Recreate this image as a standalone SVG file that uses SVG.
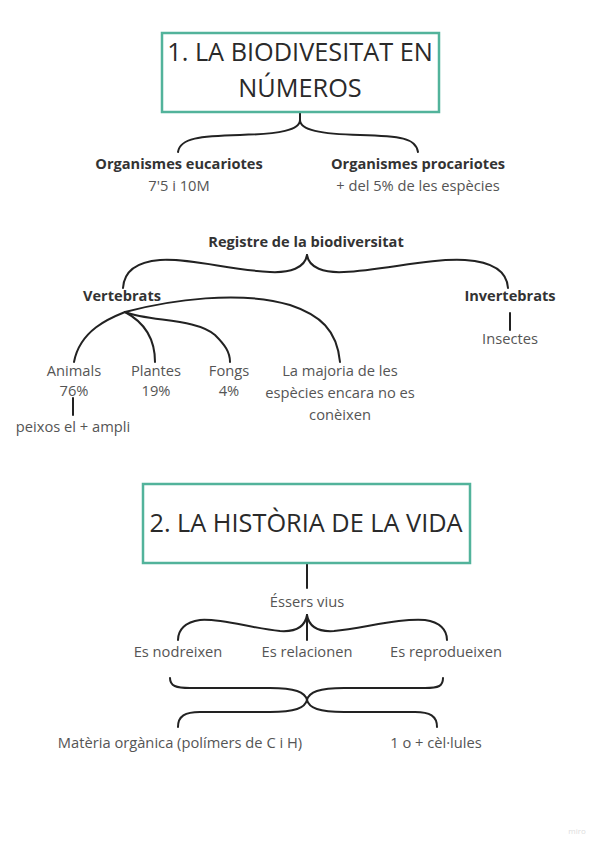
<svg xmlns="http://www.w3.org/2000/svg" width="600" height="848" viewBox="0 0 600 848">
<style>
.t{font-family:"Open Sans","Liberation Sans",sans-serif;fill:#555;font-size:14.7px;text-anchor:middle}
.b{font-family:"Open Sans","Liberation Sans",sans-serif;fill:#333;font-size:14.6px;font-weight:bold;text-anchor:middle}
.h{font-family:"Open Sans","Liberation Sans",sans-serif;fill:#2a2a2a;font-size:25.3px;text-anchor:middle}
.box{fill:#fff;stroke:#52b39b;stroke-width:2.5}
.c{fill:none;stroke:#222;stroke-width:2;stroke-linecap:round}
</style>
<rect width="600" height="848" fill="#fff"/>
<g id="connectors">
<path class="c" d="M300,112 L300,120 C300,130 280,134 240,135 C200,136 180,138 178,152"/>
<path class="c" d="M300,120 C300,130 320,134 360,135 C400,136 416,138 418,152"/>
<path class="c" d="M307,255 C305,268 290,273 270,272 C230,270 190,258 160,260 C135,262 124,272 123,288"/>
<path class="c" d="M307,255 C309,268 324,273 344,272 C384,270 430,258 465,260 C495,262 507,272 508,288"/>
<path class="c" d="M510,313 L510,330"/>
<path class="c" d="M125,312 C110,318 80,330 74,362"/>
<path class="c" d="M125,312 C140,320 155,335 155,362"/>
<path class="c" d="M125,312 C150,322 195,318 215,335 C225,345 230,352 230,362"/>
<path class="c" d="M125,312 C170,300 240,290 290,305 C320,315 337,330 340,362"/>
<path class="c" d="M73,398 L73,415"/>
<path class="c" d="M307,563 L307,588"/>
<path class="c" d="M307,615 L307,640"/>
<path class="c" d="M307,615 C305,627 295,632 280,631 C250,628 220,618 200,620 C185,622 178,630 178,640"/>
<path class="c" d="M307,615 C309,627 319,632 334,631 C364,628 400,618 425,620 C440,622 447,630 447,640"/>
<path class="c" d="M170,678 C170,686 176,688 190,688 L270,688 C295,688 305,692 307,700 C309,692 319,688 344,688 L425,688 C439,688 443,686 443,678"/>
<path class="c" d="M178,727 C178,716 185,712 200,712 L270,712 C295,712 305,708 307,700 C309,708 319,712 344,712 L415,712 C430,712 437,716 437,727"/>
</g>
<g id="title1">
<rect class="box" x="162" y="33" width="277" height="79"/>
<text class="h" x="300" y="61">1. LA BIODIVESITAT EN</text>
<text class="h" x="300" y="97">NÚMEROS</text>
</g>
<g id="eucariotes">
<text class="b" x="179" y="169">Organismes eucariotes</text>
<text class="t" x="179" y="191">7'5 i 10M</text>
</g>
<g id="procariotes">
<text class="b" x="418" y="169">Organismes procariotes</text>
<text class="t" x="418" y="191">+ del 5% de les espècies</text>
</g>
<g id="registre"><text class="b" x="306" y="247">Registre de la biodiversitat</text></g>
<g id="vertebrats"><text class="b" x="122" y="301">Vertebrats</text></g>
<g id="invertebrats"><text class="b" x="510" y="301">Invertebrats</text></g>
<g id="insectes"><text class="t" x="510" y="344">Insectes</text></g>
<g id="animals"><text class="t" x="74" y="376">Animals</text><text class="t" x="74" y="396">76%</text></g>
<g id="peixos"><text class="t" x="73" y="432">peixos el + ampli</text></g>
<g id="plantes"><text class="t" x="156" y="376">Plantes</text><text class="t" x="156" y="396">19%</text></g>
<g id="fongs"><text class="t" x="229" y="376">Fongs</text><text class="t" x="229" y="396">4%</text></g>
<g id="majoria"><text class="t" x="340" y="376">La majoria de les</text><text class="t" x="340" y="398">espècies encara no es</text><text class="t" x="340" y="420">conèixen</text></g>
<g id="title2">
<rect class="box" x="143" y="484" width="327" height="79"/>
<text class="h" x="306" y="532" font-size="25.8">2. LA HISTÒRIA DE LA VIDA</text>
</g>
<g id="essers"><text class="t" x="307" y="607">Éssers vius</text></g>
<g id="nodreixen"><text class="t" x="178" y="657">Es nodreixen</text></g>
<g id="relacionen"><text class="t" x="307" y="657">Es relacionen</text></g>
<g id="reprodueixen"><text class="t" x="446" y="657">Es reprodueixen</text></g>
<g id="materia"><text class="t" x="180" y="748">Matèria orgànica (polímers de C i H)</text></g>
<g id="cellules"><text class="t" x="436" y="748">1 o + cèl·lules</text></g>
<text x="577" y="834" font-family="'Open Sans',sans-serif" font-size="8" fill="#ddd" text-anchor="middle">miro</text>
</svg>
